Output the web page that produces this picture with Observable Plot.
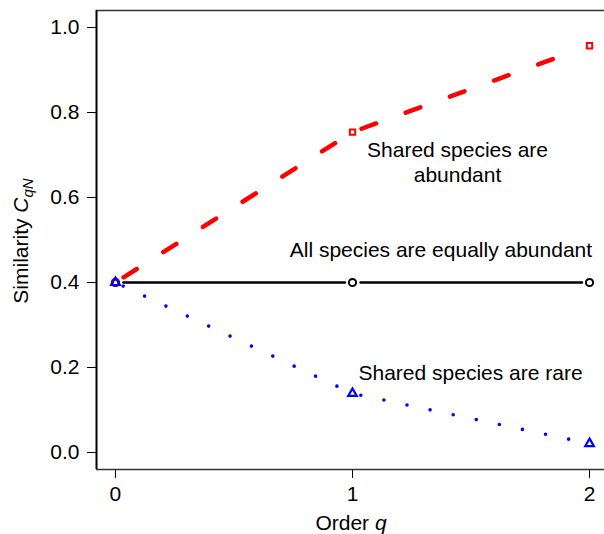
<!DOCTYPE html>
<html>
<head>
<meta charset="utf-8">
<script src="https://cdn.jsdelivr.net/npm/d3@7"></script>
<script src="https://cdn.jsdelivr.net/npm/@observablehq/plot@0.6"></script>
<style>
  html, body { margin: 0; padding: 0; background: white; }
  #chart svg { display: block; }
</style>
</head>
<body>
<div id="chart"></div>
<script>
// Order q
const orderQ = [0, 1, 2];
// Similarity C_qN
const sharedAbundant = [0.400, 0.754, 0.957];
const equallyAbundant = [0.400, 0.400, 0.400];
const sharedRare = [0.400, 0.139, 0.021];

// Ticks
const xTicks = [0, 1, 2];
const yTicks = [0, 0.2, 0.4, 0.6, 0.8, 1.0];

// Annotations
const noteText = ["Shared species are\nabundant", "All species are equally abundant", "Shared species are rare"];
const noteQ = [1.443, 1.373, 1.498];
const noteValue = [0.685, 0.479, 0.1885];

const xDomain = [-0.08, 2.08];
const yDomain = [-0.04, 1.04];

const points = (vals) => orderQ.map((q, i) => ({q, v: vals[i]}));
const segments = (vals) => orderQ.slice(0, -1).map((q, i) => ({q1: q, v1: vals[i], q2: orderQ[i + 1], v2: vals[i + 1]}));
const notes = noteText.map((t, i) => ({t, q: noteQ[i], v: noteValue[i]}));

const font = '"Liberation Sans", Arial, Helvetica, sans-serif';
const seg = {x1: "q1", y1: "v1", x2: "q2", y2: "v2", headLength: 0};

const chart = Plot.plot({
  width: 604,
  height: 534,
  marginLeft: 96,
  marginRight: 0,
  marginTop: 10,
  marginBottom: 65,
  style: {fontFamily: font, fontSize: "21px", color: "black", background: "white", overflow: "hidden"},
  x: {domain: xDomain, range: [96, 608], ticks: xTicks, tickSize: 9, tickPadding: 8, label: null, tickFormat: d => String(d)},
  y: {domain: yDomain, ticks: yTicks, tickSize: 9, tickPadding: 8, label: null, tickFormat: d3.format(".1f")},
  marks: [
    Plot.ruleY([yDomain[0], yDomain[1]], {stroke: "#333", strokeWidth: 1.3}),
    Plot.ruleX([xDomain[0]], {stroke: "black", strokeWidth: 2}),
    // all species equally abundant: solid black
    Plot.arrow(segments(equallyAbundant), {...seg, insetStart: 8, insetEnd: 7.5, stroke: "black", strokeWidth: 2.4}),
    Plot.dot(points(equallyAbundant), {x: "q", y: "v", r: 3.6, stroke: "black", strokeWidth: 2, fill: "none"}),
    // shared species abundant: red dashed
    Plot.arrow(segments(sharedAbundant), {...seg, insetStart: 7.4, insetEnd: 8, stroke: "#ff0000", strokeWidth: 4.5, strokeDasharray: "15.5 31.5", strokeDashoffset: -2.25, strokeLinecap: "round"}),
    Plot.dot(points(sharedAbundant), {x: "q", y: "v", symbol: "square", r: 3.0, stroke: "#ff0000", strokeWidth: 2, fill: "none"}),
    // shared species rare: blue dotted
    Plot.arrow(segments(sharedRare), {...seg, insetStart: 8.5, insetEnd: 8, stroke: "#0000ff", strokeWidth: 3.6, strokeDasharray: "0 23.6", strokeLinecap: "round"}),
    Plot.dot(points(sharedRare), {x: "q", y: "v", symbol: "triangle", r: 3.2, stroke: "#0000ff", strokeWidth: 2.2, fill: "none"}),
    // annotations
    Plot.text(notes, {x: "q", y: "v", text: "t", textAnchor: "middle", lineAnchor: "middle", lineHeight: 1.19, fill: "black", fontSize: 21})
  ]
});

document.getElementById("chart").appendChild(chart);

const svg = d3.select(chart);
// x axis title
const xt = svg.append("text")
  .attr("x", 351).attr("y", 530)
  .attr("text-anchor", "middle")
  .attr("font-family", font).attr("font-size", 21).attr("fill", "black");
xt.append("tspan").text("Order ");
xt.append("tspan").attr("font-style", "italic").text("q");

// y axis title
const yt = svg.append("text")
  .attr("transform", "translate(28,241) rotate(-90)")
  .attr("text-anchor", "middle")
  .attr("font-family", font).attr("font-size", 21).attr("fill", "black");
yt.append("tspan").text("Similarity ");
yt.append("tspan").attr("font-style", "italic").text("C");
yt.append("tspan").attr("font-style", "italic").attr("font-size", 15).attr("dy", 5).text("qN");
</script>
</body>
</html>
